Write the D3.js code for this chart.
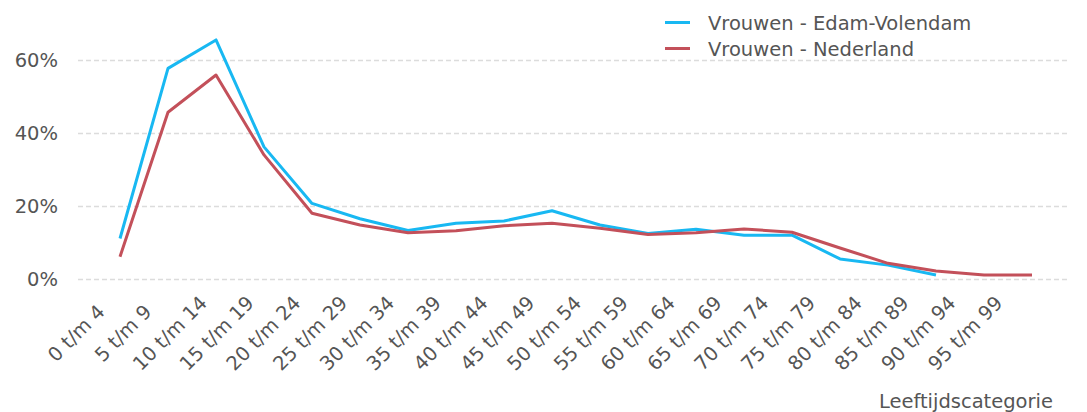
<!DOCTYPE html>
<html>
<head>
<meta charset="utf-8">
<script src="https://cdn.jsdelivr.net/npm/d3@7"></script>
<style>
    body { margin: 0; background: #fff; }
    text { font-family: "DejaVu Sans", sans-serif; fill: #555; }
</style>
</head>
<body>
<svg id="chart" width="1087" height="412"></svg>
<script>
var categories = ["0 t/m 4", "5 t/m 9", "10 t/m 14", "15 t/m 19", "20 t/m 24", "25 t/m 29",
    "30 t/m 34", "35 t/m 39", "40 t/m 44", "45 t/m 49", "50 t/m 54", "55 t/m 59", "60 t/m 64",
    "65 t/m 69", "70 t/m 74", "75 t/m 79", "80 t/m 84", "85 t/m 89", "90 t/m 94", "95 t/m 99"];

// percentages
var edamVolendam = [11.1, 57.7, 65.5, 36.2, 20.7, 16.5, 13.3, 15.3, 15.9, 18.7,
    14.8, 12.5, 13.6, 12.0, 12.0, 5.5, 3.8, 1.1, null, null];
var nederland = [6.1, 45.7, 55.9, 34.0, 18.0, 14.8, 12.7, 13.2, 14.6, 15.3,
    13.9, 12.2, 12.7, 13.7, 12.8, 8.5, 4.3, 2.2, 1.1, 1.1];

var yTicks = [0, 20, 40, 60];
var seriesNames = ["Vrouwen - Edam-Volendam", "Vrouwen - Nederland"];
var seriesColors = ["#18b8f2", "#c3505a"];
var axisTitle = "Leeftijdscategorie";

var series = [edamVolendam, nederland];
var fontSize = "19.5px";

var svg = d3.select("#chart");

var x = d3.scalePoint().domain(categories).range([120, 1032]);
var xLabel = d3.scalePoint().domain(categories).range([81, 970]);
var y = d3.scaleLinear().domain([0, 70]).range([279, 23.5]);

// grid
svg.append("g").selectAll("line")
    .data(yTicks)
    .enter()
    .append("line")
    .attr("x1", 78)
    .attr("x2", 1068)
    .attr("y1", function(d) { return Math.round(y(d)) + 0.5 })
    .attr("y2", function(d) { return Math.round(y(d)) + 0.5 })
    .attr("stroke", "#dcdcdc")
    .attr("stroke-width", 1.3)
    .attr("stroke-dasharray", "5,3")

// y axis
var yAxis = svg.append("g")
    .attr("transform", "translate(58,0)")
    .call(d3.axisLeft(y).tickValues(yTicks).tickSize(0).tickPadding(0)
        .tickFormat(function(d) { return d + "%" }))
yAxis.select(".domain").remove()
yAxis.selectAll("text")
    .style("font-size", fontSize)
    .attr("fill", null)
    .style("font-family", null)

// x labels
svg.append("g").selectAll("text")
    .data(categories)
    .enter()
    .append("text")
    .attr("transform", function(d) { return "translate(" + xLabel(d) + ",338) rotate(-45)" })
    .attr("text-anchor", "middle")
    .style("font-size", fontSize)
    .text(function(d) { return d })

svg.append("text")
    .attr("x", 1053)
    .attr("y", 408)
    .attr("text-anchor", "end")
    .style("font-size", fontSize)
    .text(axisTitle)

// lines
var line = d3.line()
    .defined(function(d) { return d != null })
    .x(function(d, i) { return x(categories[i]) })
    .y(function(d) { return y(d) })

series.forEach(function(values, k) {
    svg.append("path")
        .datum(values)
        .attr("d", line)
        .attr("fill", "none")
        .attr("stroke", seriesColors[k])
        .attr("stroke-width", 3)
        .attr("stroke-linejoin", "round")
})

// legend
var legend = svg.append("g").selectAll("g")
    .data(seriesNames)
    .enter()
    .append("g")
    .attr("transform", function(d, i) { return "translate(665," + (22.5 + i * 26) + ")" })
legend.append("line")
    .attr("x1", 0)
    .attr("x2", 25)
    .attr("stroke", function(d, i) { return seriesColors[i] })
    .attr("stroke-width", 3)
legend.append("text")
    .attr("x", 43)
    .attr("y", 7.5)
    .style("font-size", fontSize)
    .text(function(d) { return d })
</script>
</body>
</html>
